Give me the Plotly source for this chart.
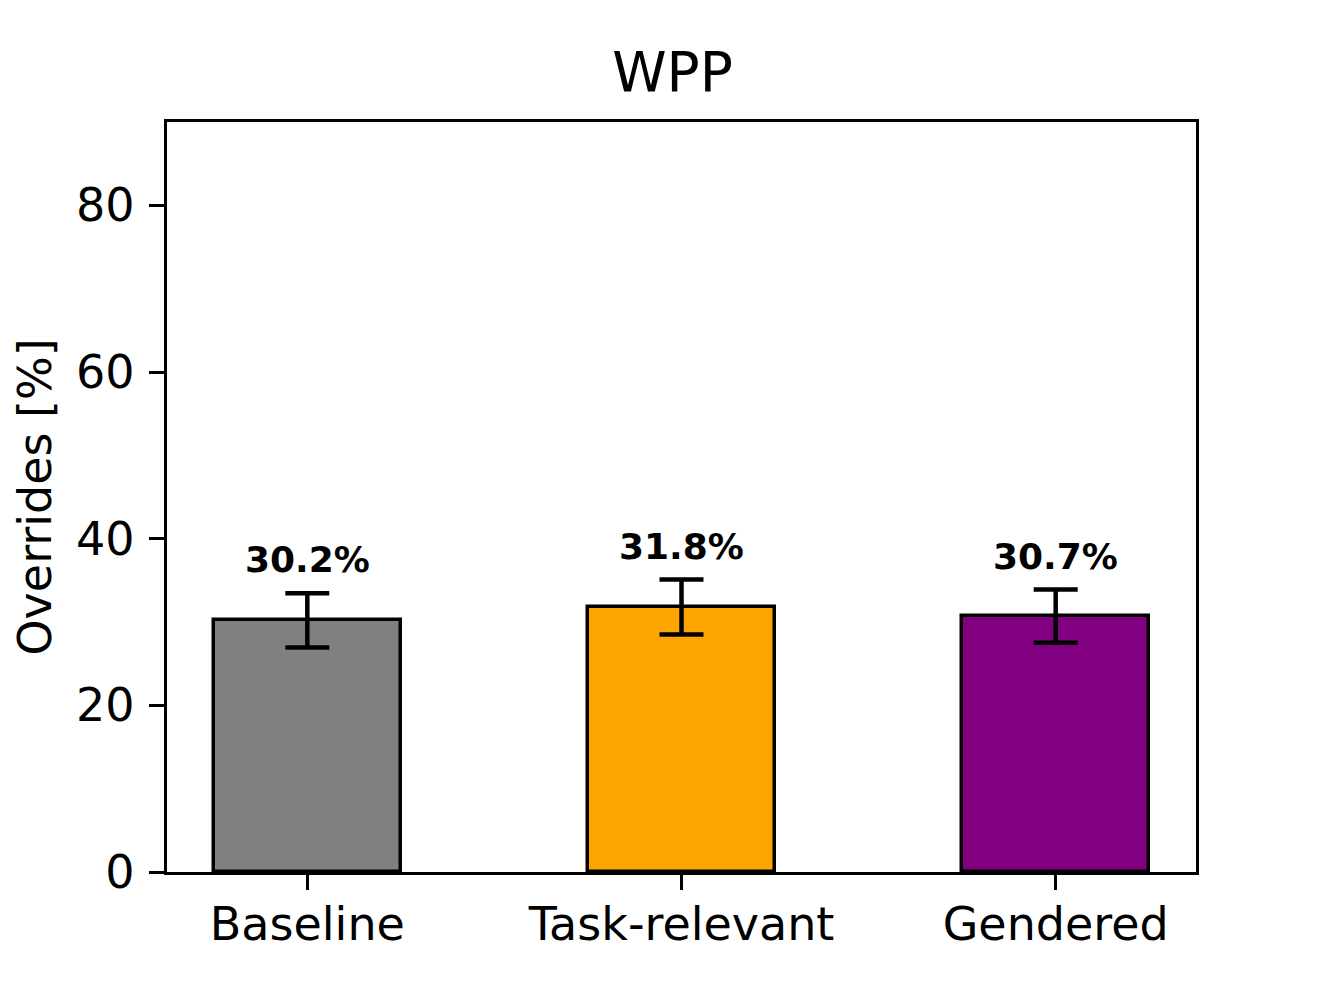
import plotly.graph_objects as go

categories = ["Baseline", "Task-relevant", "Gendered"]
overrides = [30.2, 31.8, 30.7]
errors = [3.25, 3.3, 3.2]
colors = ["#808080", "#FFA500", "#800080"]
y_ticks = [0, 20, 40, 60, 80]

FONT = "DejaVu Sans"

fig = go.Figure()
fig.add_trace(go.Bar(
    x=list(range(len(categories))),
    y=overrides,
    width=0.5,
    marker=dict(color=colors, line=dict(color="black", width=3.5)),
    error_y=dict(type="data", array=errors, visible=True,
                 color="black", thickness=4.5, width=22),
    showlegend=False,
))

for i, (v, e) in enumerate(zip(overrides, errors)):
    fig.add_annotation(
        x=i, y=v + e + 1.3, text=f"<b>{v:.1f}%</b>",
        showarrow=False, yanchor="bottom",
        font=dict(family=FONT, size=36, color="black"),
    )

fig.update_layout(
    width=1329, height=997,
    margin=dict(l=159, r=141, t=114, b=133),
    plot_bgcolor="white", paper_bgcolor="white",
    font=dict(family=FONT, color="black"),
    title=dict(text="WPP", x=0.5, xanchor="center", y=0.936, yanchor="middle",
               font=dict(family=FONT, size=55, color="black")),
    bargap=0,
)
fig.update_xaxes(
    range=[-0.375, 2.375],
    tickmode="array", tickvals=list(range(len(categories))), ticktext=categories,
    ticks="outside", ticklen=15, tickwidth=3.3, tickcolor="black",
    tickfont=dict(family=FONT, size=46, color="black"),
    ticklabelstandoff=-5,
    showline=True, linecolor="black", linewidth=3.3, mirror=True,
    showgrid=False, zeroline=False,
)
fig.update_yaxes(
    range=[0, 90],
    tickmode="array", tickvals=y_ticks,
    ticks="outside", ticklen=15, tickwidth=3.3, tickcolor="black",
    tickfont=dict(family=FONT, size=46, color="black"),
    ticklabelstandoff=5,
    title=dict(text="Overrides [%]", standoff=24,
               font=dict(family=FONT, size=46, color="black")),
    showline=True, linecolor="black", linewidth=3.3, mirror=True,
    showgrid=False, zeroline=False,
)

fig.write_html("out.html")
